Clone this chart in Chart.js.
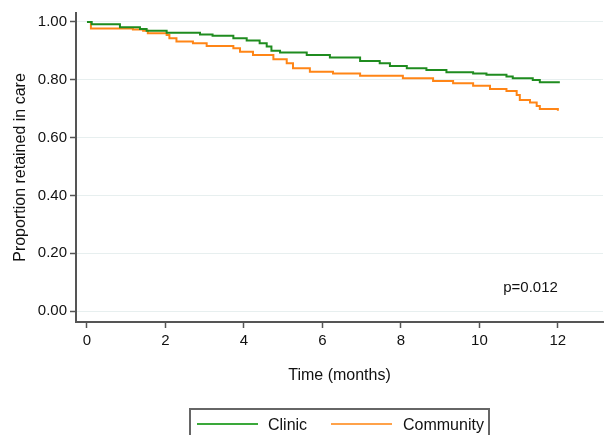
<!DOCTYPE html>
<html>
<head>
<meta charset="utf-8">
<script src="https://cdn.jsdelivr.net/npm/chart.js@4"></script>
<style>
  html, body { margin: 0; padding: 0; background: #fff; }
  #wrap { position: relative; width: 604px; height: 435px; overflow: hidden; }
  #legend {
    position: absolute; left: 189px; top: 408px; width: 301px; height: 40px;
    border: 2px solid #666; box-sizing: border-box;
    font: 16px "Liberation Sans", Arial, sans-serif; color: #111;
  }
  #legend .item { position: absolute; top: 5px; height: 20px; line-height: 20px; }
  #legend .swatch { position: absolute; top: 13px; width: 61px; height: 2px; }
</style>
</head>
<body>
<div id="wrap">
  <canvas id="c" width="604" height="435"></canvas>
  <div id="legend"></div>
</div>
<script>
"use strict";

// Kaplan-Meier retention (months, proportion)
const clinicTime = [0, 0.12, 0.84, 1.35, 1.52, 2.03, 2.88, 3.2, 3.73, 4.07, 4.4, 4.58, 4.7, 4.92,
  5.6, 6.19, 6.96, 7.46, 7.72, 8.15, 8.65, 9.16, 9.84, 10.18, 10.69, 10.85, 11.36, 11.54, 12.05];
const clinicSurv = [1.0, 0.992, 0.982, 0.976, 0.97, 0.963, 0.957, 0.952, 0.944, 0.936, 0.926, 0.915, 0.90, 0.894,
  0.886, 0.877, 0.865, 0.857, 0.848, 0.84, 0.834, 0.826, 0.822, 0.817, 0.811, 0.805, 0.799, 0.791, 0.791];

const communityTime = [0, 0.1, 1.17, 1.43, 1.55, 2.03, 2.1, 2.28, 2.7, 3.05, 3.73, 3.9, 4.23, 4.75, 5.09, 5.25,
  5.68, 6.27, 6.96, 8.05, 8.82, 9.33, 9.84, 10.27, 10.69, 10.95, 11.03, 11.29, 11.46, 11.54, 12.0];
const communitySurv = [1.0, 0.977, 0.974, 0.97, 0.961, 0.955, 0.944, 0.932, 0.926, 0.917, 0.909, 0.897, 0.886, 0.871, 0.857, 0.84,
  0.828, 0.822, 0.814, 0.805, 0.796, 0.788, 0.779, 0.768, 0.761, 0.747, 0.730, 0.721, 0.709, 0.699, 0.693];

const seriesNames = ["Clinic", "Community"];
const seriesColors = ["#1f8c1f", "#ff8516"];
const legendColors = ["#3aa83a", "#ffa24a"];

const xTicks = [0, 2, 4, 6, 8, 10, 12];
const yTicks = [0, 0.2, 0.4, 0.6, 0.8, 1.0];
const pText = "p=0.012";

const FONT = "'Liberation Sans', Arial, sans-serif";
const pts = (ts, ss) => ts.map((t, i) => ({ x: t, y: ss[i] }));

const pLabel = {
  id: "pLabel",
  afterDatasetsDraw(chart) {
    const { ctx, scales: { x, y } } = chart;
    ctx.save();
    ctx.font = "15px " + FONT;
    ctx.fillStyle = "#111";
    ctx.textAlign = "right";
    ctx.textBaseline = "middle";
    ctx.fillText(pText, x.getPixelForValue(12.0), y.getPixelForValue(0.08));
    ctx.restore();
  },
};

new Chart(document.getElementById("c"), {
  type: "line",
  data: {
    datasets: [
      { label: seriesNames[0], data: pts(clinicTime, clinicSurv), borderColor: seriesColors[0],
        borderWidth: 2, pointRadius: 0, stepped: true, fill: false },
      { label: seriesNames[1], data: pts(communityTime, communitySurv), borderColor: seriesColors[1],
        borderWidth: 2, pointRadius: 0, stepped: true, fill: false },
    ],
  },
  options: {
    responsive: false,
    animation: false,
    layout: { padding: { top: 13, right: 1, bottom: 50, left: 0 } },
    plugins: { legend: { display: false }, tooltip: { enabled: false } },
    scales: {
      x: {
        type: "linear", min: -0.28, max: 13.15,
        afterBuildTicks: (s) => { s.ticks = xTicks.map((v) => ({ value: v })); },
        afterFit: (s) => { s.height = 63; },
        ticks: { font: { size: 15, family: FONT }, color: "#111", padding: 4, maxRotation: 0 },
        grid: { drawOnChartArea: false, tickLength: 6, tickColor: "#555", tickWidth: 1.5 },
        border: { color: "#555", width: 2 },
        title: { display: true, text: "Time (months)", font: { size: 16, family: FONT }, color: "#111",
                 padding: { top: 0, bottom: 0 } },
      },
      y: {
        type: "linear", min: -0.038, max: 1.031,
        afterBuildTicks: (s) => { s.ticks = yTicks.map((v) => ({ value: v })); },
        afterFit: (s) => { s.width = 76; },
        ticks: { font: { size: 15, family: FONT }, color: "#111", padding: 3,
                 callback: (v) => v.toFixed(2) },
        grid: { color: "#e7efef", lineWidth: 1, tickLength: 6, tickColor: "#555", tickWidth: 1.5 },
        border: { color: "#555", width: 2 },
        title: { display: true, text: "Proportion retained in care", font: { size: 16, family: FONT },
                 color: "#111", padding: { top: 11, bottom: 0 } },
      },
    },
  },
  plugins: [pLabel],
});

// legend box under the plot
const lg = document.getElementById("legend");
const swatchX = [6, 140];
const textX = [77, 212];
seriesNames.forEach((name, i) => {
  const sw = document.createElement("span");
  sw.className = "swatch";
  sw.style.left = swatchX[i] + "px";
  sw.style.background = legendColors[i];
  lg.appendChild(sw);
  const tx = document.createElement("span");
  tx.className = "item";
  tx.style.left = textX[i] + "px";
  tx.textContent = name;
  lg.appendChild(tx);
});
</script>
</body>
</html>
